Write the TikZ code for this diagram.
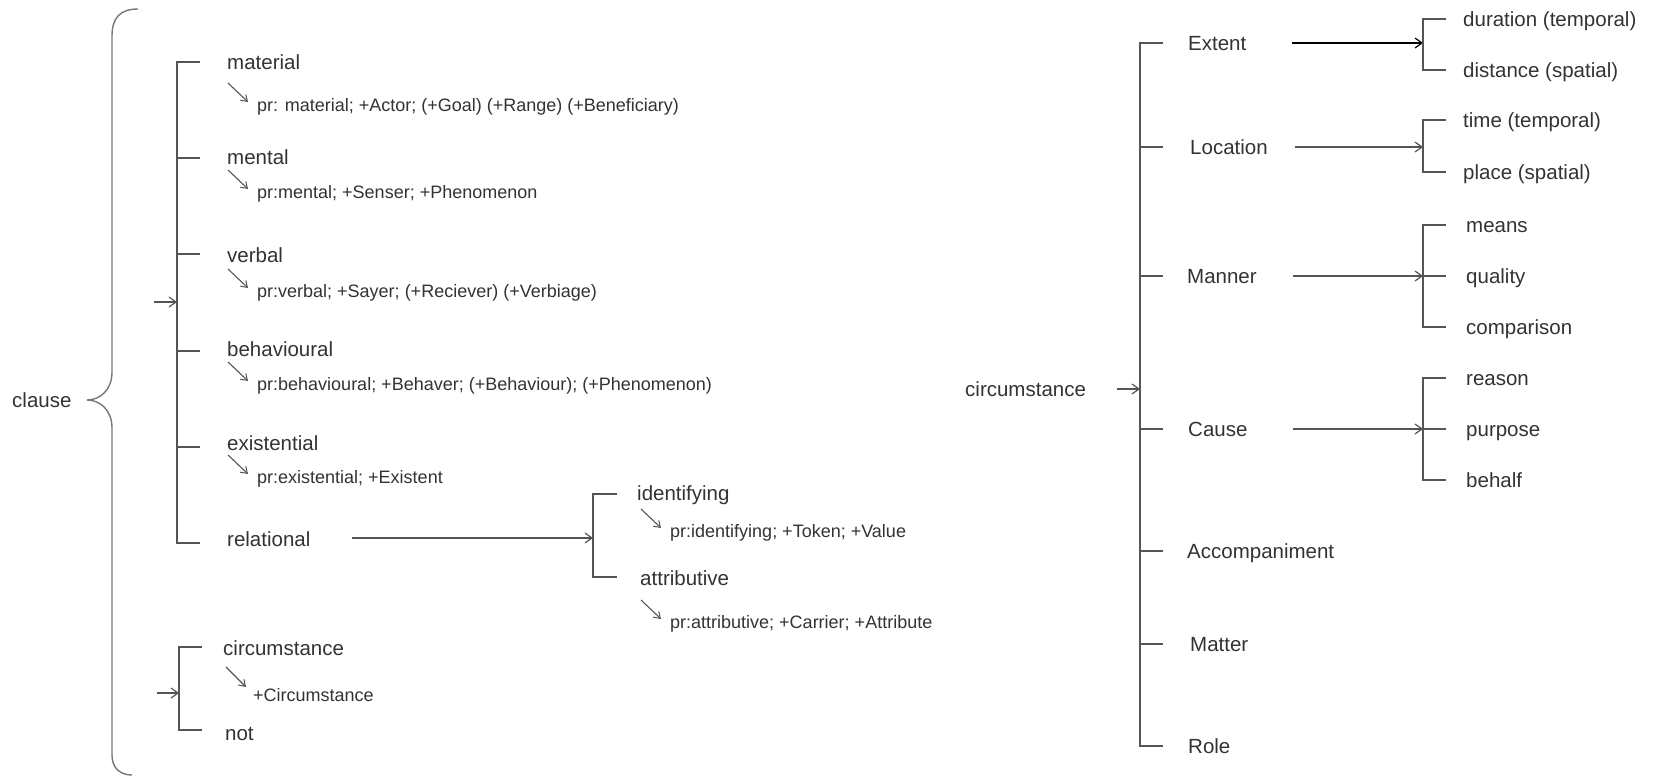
\documentclass[tikz,border=0pt]{standalone}
\usepackage{fontspec}
\setmainfont{Liberation Sans}
\usetikzlibrary{arrows.meta,calc}
\definecolor{txtc}{HTML}{333333}
\definecolor{lnc}{HTML}{555555}
\definecolor{brc}{HTML}{777777}
\tikzset{
  lbl/.style={anchor=west, inner sep=0pt, text=txtc, font=\fontsize{20.5}{24}\selectfont, text height=15pt, text depth=0pt},
  sub/.style={anchor=west, inner sep=0pt, text=txtc, font=\fontsize{18}{21}\selectfont, text height=13pt, text depth=0pt},
  ln/.style={draw=lnc, line width=1.4pt},
  arr/.style={ln, -{Straight Barb[length=7pt,width=10pt,line width=1.2pt]}},
  sarr/.style={draw=lnc, line width=1.1pt, -{Straight Barb[length=6pt,width=8pt,line width=1pt]}}
}
\begin{document}
\begin{tikzpicture}[x=1pt,y=-1pt]
\useasboundingbox[fill=white] (0,0) rectangle (1656,777);

% ---------- left brace ----------
\node[lbl] (clause) at (12,400) {clause};
\coordinate (brTop) at (138,9);
\coordinate (brTip) at (87,400);
\coordinate (brBot) at (132,775);
\draw[draw=brc, line width=1.4pt] (brTop) .. controls (120,9) and (112,18) .. (112,36)
  -- (112,372) .. controls (112,390) and (100,400) .. (brTip)
  .. controls (100,400) and (112,410) .. (112,428)
  -- (112,755) .. controls (112,768) and (120,775) .. (brBot);

% ---------- process types ----------
\node[lbl] (material) at (227,62) {material};
\node[lbl] (mental) at (227,157) {mental};
\node[lbl] (verbal) at (227,255) {verbal};
\node[lbl] (behavioural) at (227,349) {behavioural};
\node[lbl] (existential) at (227,443) {existential};
\node[lbl] (relational) at (227,539) {relational};

\node[sub] (prmat) at (257,105) {pr: material; +Actor; (+Goal) (+Range) (+Beneficiary)};
\node[sub] (prment) at (257,192) {pr:mental; +Senser; +Phenomenon};
\node[sub] (prverb) at (257,291) {pr:verbal; +Sayer; (+Reciever) (+Verbiage)};
\node[sub] (prbeh) at (257,384) {pr:behavioural; +Behaver; (+Behaviour); (+Phenomenon)};
\node[sub] (prex) at (257,477) {pr:existential; +Existent};

\foreach \p in {prmat,prment,prverb,prbeh,prex}{
  \draw[sarr] ($(\p.west)+(-29,-22)$) -- ($(\p.west)+(-9,-3)$);
}

\coordinate (pvTop) at (177,62);
\coordinate (pvBot) at (177,543);
\coordinate (pvIn) at (177,302);
\coordinate (pvSrc) at (154,302);
\draw[ln] (200,62) -- (pvTop) -- (pvBot) -- (200,543);
\foreach \y in {158,254,351,447}{ \draw[ln] (177,\y) -- (200,\y); }
\draw[arr] (pvSrc) -- (pvIn);

% relational sub-system
\coordinate (relA) at (352,538);
\coordinate (relB) at (593,538);
\draw[arr] (relA) -- (relB);
\node[lbl] (identifying) at (637,493) {identifying};
\node[lbl] (attributive) at (640,578) {attributive};
\node[sub] (prid) at (670,531) {pr:identifying; +Token; +Value};
\node[sub] (prattr) at (670,622) {pr:attributive; +Carrier; +Attribute};
\draw[ln] (617,494) -- (593,494) -- (593,577) -- (617,577);
\foreach \p in {prid,prattr}{
  \draw[sarr] ($(\p.west)+(-29,-22)$) -- ($(\p.west)+(-9,-3)$);
}

% circumstance / not
\node[lbl] (lcirc) at (223,648) {circumstance};
\node[sub] (prcirc) at (253,695) {+Circumstance};
\node[lbl] (not) at (225,733) {not};
\draw[sarr] ($(prcirc.west)+(-27,-28)$) -- ($(prcirc.west)+(-7,-8)$);
\coordinate (lcTop) at (179,647);
\coordinate (lcBot) at (179,730);
\coordinate (lcIn) at (179,693);
\coordinate (lcSrc) at (157,693);
\draw[ln] (202,647) -- (lcTop) -- (lcBot) -- (202,730);
\draw[arr] (lcSrc) -- (lcIn);

% ---------- right: circumstance system ----------
\node[lbl] (rcirc) at (965,389) {circumstance};
\node[lbl] (extent) at (1188,43) {Extent};
\node[lbl] (location) at (1190,147) {Location};
\node[lbl] (manner) at (1187,276) {Manner};
\node[lbl] (cause) at (1188,429) {Cause};
\node[lbl] (accomp) at (1187,551) {Accompaniment};
\node[lbl] (matter) at (1190,644) {Matter};
\node[lbl] (role) at (1188,746) {Role};

\coordinate (rcTop) at (1140,43);
\coordinate (rcBot) at (1140,746);
\coordinate (rcIn) at (1140,389);
\coordinate (rcSrc) at (1117,389);
\draw[ln] (1163,43) -- (rcTop) -- (rcBot) -- (1163,746);
\foreach \y in {147,276,429,551,644}{ \draw[ln] (1140,\y) -- (1163,\y); }
\draw[arr] (rcSrc) -- (rcIn);

% sub labels
\node[lbl] (duration) at (1463,19) {duration (temporal)};
\node[lbl] (distance) at (1463,70) {distance (spatial)};
\node[lbl] (time) at (1463,120) {time (temporal)};
\node[lbl] (place) at (1463,172) {place (spatial)};
\node[lbl] (means) at (1466,225) {means};
\node[lbl] (quality) at (1466,276) {quality};
\node[lbl] (comparison) at (1466,327) {comparison};
\node[lbl] (reason) at (1466,378) {reason};
\node[lbl] (purpose) at (1466,429) {purpose};
\node[lbl] (behalf) at (1466,480) {behalf};

% Extent
\coordinate (exA) at (1292,43); \coordinate (exB) at (1423,43);
\draw[arr, draw=black] (exA) -- (exB);
\draw[ln] (1446,19) -- (1423,19) -- (1423,70) -- (1446,70);
% Location
\coordinate (loA) at (1295,147); \coordinate (loB) at (1423,147);
\draw[arr] (loA) -- (loB);
\draw[ln] (1446,120) -- (1423,120) -- (1423,172) -- (1446,172);
% Manner
\coordinate (maA) at (1293,276); \coordinate (maB) at (1423,276);
\draw[arr] (maA) -- (maB);
\draw[ln] (1446,225) -- (1423,225) -- (1423,327) -- (1446,327);
\draw[ln] (1423,276) -- (1446,276);
% Cause
\coordinate (caA) at (1293,429); \coordinate (caB) at (1423,429);
\draw[arr] (caA) -- (caB);
\draw[ln] (1446,378) -- (1423,378) -- (1423,480) -- (1446,480);
\draw[ln] (1423,429) -- (1446,429);
\end{tikzpicture}
\end{document}
